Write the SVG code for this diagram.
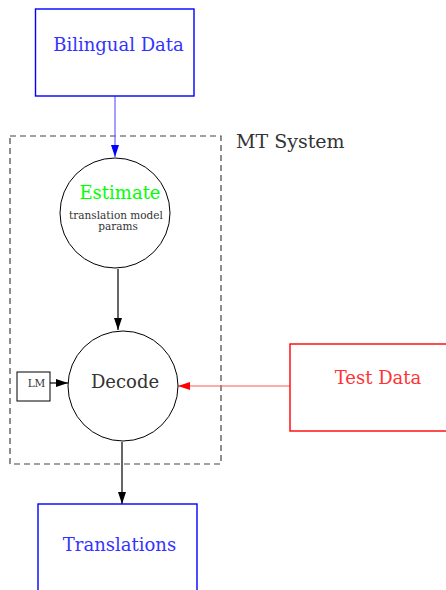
<svg xmlns="http://www.w3.org/2000/svg" width="446" height="590" viewBox="0 0 446 590" font-family="'DejaVu Serif', 'Liberation Serif', serif">
  <style>
    .big { font-size: 18px; }
    .small { font-size: 10.5px; fill: #333; }
    .data { fill: none; stroke: #0000ff; stroke-width: 1.4; }
    .node { fill: #fff; stroke: #000; stroke-width: 1; }
    .edge { fill: none; stroke-width: 1.2; }
  </style>
  <defs>
    <marker id="arrow-blue" markerWidth="12" markerHeight="8" refX="12" refY="4" orient="auto" markerUnits="userSpaceOnUse">
      <path d="M0,0 L12,4 L0,8 z" fill="#0000ff"/>
    </marker>
    <marker id="arrow-red" markerWidth="12" markerHeight="8" refX="12" refY="4" orient="auto" markerUnits="userSpaceOnUse">
      <path d="M0,0 L12,4 L0,8 z" fill="#ff0000"/>
    </marker>
    <marker id="arrow-long" markerWidth="12" markerHeight="8" refX="12" refY="4" orient="auto" markerUnits="userSpaceOnUse">
      <path d="M0,0 L12,4 L0,8 z" fill="#000"/>
    </marker>
  </defs>

  <!-- system boundary -->
  <g id="mt-system">
    <rect x="10" y="136" width="211" height="328" fill="none" stroke="#444" stroke-width="1.2" stroke-dasharray="6,4"/>
    <text x="236" y="148" font-size="19" fill="#333">MT System</text>
  </g>

  <g id="connectors">
    <line class="edge" x1="115" y1="96" x2="115" y2="157" stroke="#6666ff" marker-end="url(#arrow-blue)"/>
    <line class="edge" x1="118" y1="269" x2="118" y2="330" stroke="#000" marker-end="url(#arrow-long)"/>
    <line class="edge" x1="50" y1="383" x2="68" y2="383" stroke="#000" marker-end="url(#arrow-long)"/>
    <line class="edge" x1="290" y1="386" x2="178" y2="386" stroke="#ff5555" marker-end="url(#arrow-red)"/>
    <line class="edge" x1="122" y1="442" x2="122" y2="504" stroke="#000" marker-end="url(#arrow-long)"/>
  </g>

  <g id="bilingual-data">
    <rect class="data" x="35.5" y="9" width="158.5" height="87"/>
    <text class="big" x="118.5" y="51" fill="#3333ff" text-anchor="middle">Bilingual Data</text>
  </g>

  <g id="estimate">
    <circle class="node" cx="115" cy="213" r="55"/>
    <text class="big" x="120" y="199" fill="#00ff00" text-anchor="middle">Estimate</text>
    <text class="small" x="116" y="219" text-anchor="middle">translation model</text>
    <text class="small" x="118" y="230" text-anchor="middle">params</text>
  </g>

  <g id="lm">
    <rect x="17" y="372" width="33" height="29" fill="#fff" stroke="#000" stroke-width="1"/>
    <text x="36.5" y="387" font-size="10.5" fill="#333" text-anchor="middle">LM</text>
  </g>

  <g id="decode">
    <circle class="node" cx="123" cy="386" r="55"/>
    <text class="big" x="125" y="388" fill="#333" text-anchor="middle">Decode</text>
  </g>

  <g id="test-data">
    <rect x="290" y="344" width="170" height="87" fill="none" stroke="#ff0000" stroke-width="1.4"/>
    <text class="big" x="378" y="384" fill="#ff3333" text-anchor="middle">Test Data</text>
  </g>

  <g id="translations">
    <rect class="data" x="38" y="504" width="159" height="100"/>
    <text class="big" x="119.5" y="551" fill="#3333ff" text-anchor="middle">Translations</text>
  </g>
</svg>
